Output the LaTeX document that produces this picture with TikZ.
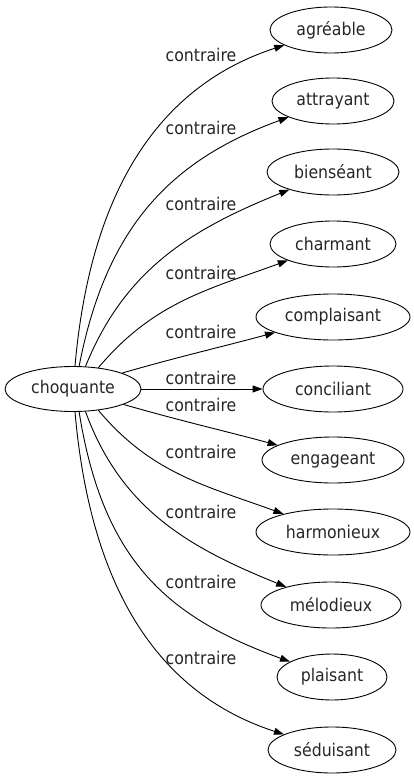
\documentclass[tikz,border=0pt]{standalone}
\usepackage{fontspec}
\setmainfont{DejaVu Sans}[FakeStretch=0.9]
\usetikzlibrary{shapes.geometric,arrows.meta}
\begin{document}
\begin{tikzpicture}[x=1pt,y=-1pt,
  every node/.style={font=\fontsize{17.5}{20}\selectfont, text=black!85},
  word/.style={draw, ellipse, inner sep=0pt, minimum height=46pt, line width=0.9pt},
  lbl/.style={inner sep=0pt},
  edge/.style={draw, line width=0.9pt, -{Triangle[length=10pt,width=7pt]}}]
\useasboundingbox (0,0) rectangle (414,779);
\node[word, minimum width=136pt, minimum height=45pt] (c) at (73,389) {choquante};
\node[word, minimum width=122pt] (n1) at (331,30) {agréable};
\node[word, minimum width=122pt] (n2) at (333,101) {attrayant};
\node[word, minimum width=132pt] (n3) at (333,172) {bienséant};
\node[word, minimum width=126pt] (n4) at (333,244) {charmant};
\node[word, minimum width=154pt] (n5) at (333,317) {complaisant};
\node[word, minimum width=140pt] (n6) at (333,389) {conciliant};
\node[word, minimum width=142pt] (n7) at (333,460) {engageant};
\node[word, minimum width=154pt] (n8) at (333,532) {harmonieux};
\node[word, minimum width=140pt] (n9) at (331,605) {mélodieux};
\node[word, minimum width=110pt] (n10) at (332,677) {plaisant};
\node[word, minimum width=128pt] (n11) at (332,750) {séduisant};
\node[lbl] (l1) at (201,55) {contraire};
\node[lbl] (l2) at (201,128) {contraire};
\node[lbl] (l3) at (201,204) {contraire};
\node[lbl] (l4) at (201,273) {contraire};
\node[lbl] (l5) at (201,332) {contraire};
\node[lbl] (l6) at (201,378) {contraire};
\node[lbl] (l7) at (201,405) {contraire};
\node[lbl] (l8) at (201,452) {contraire};
\node[lbl] (l9) at (201,512) {contraire};
\node[lbl] (l10) at (201,582) {contraire};
\node[lbl] (l11) at (201,658) {contraire};
\draw[edge] (c.85) to[out=85,in=198] (n1);
\draw[edge] (c.75) to[out=79,in=200,out looseness=1.1] (n2);
\draw[edge] (c.61) to[out=68,in=202] (n3);
\draw[edge] (c.40) to[out=50,in=200] (n4);
\draw[edge] (c.18) to[out=16,in=195] (n5);
\draw[edge] (c) -- (n6);
\draw[edge] (c.-17) to[out=-16,in=165] (n7);
\draw[edge] (c.-40) to[out=-50,in=160] (n8);
\draw[edge] (c.-61) to[out=-70,in=158] (n9);
\draw[edge] (c.-75) to[out=-81,in=160,out looseness=1.2] (n10);
\draw[edge] (c.-85) to[out=-85,in=162] (n11);
\end{tikzpicture}
\end{document}
